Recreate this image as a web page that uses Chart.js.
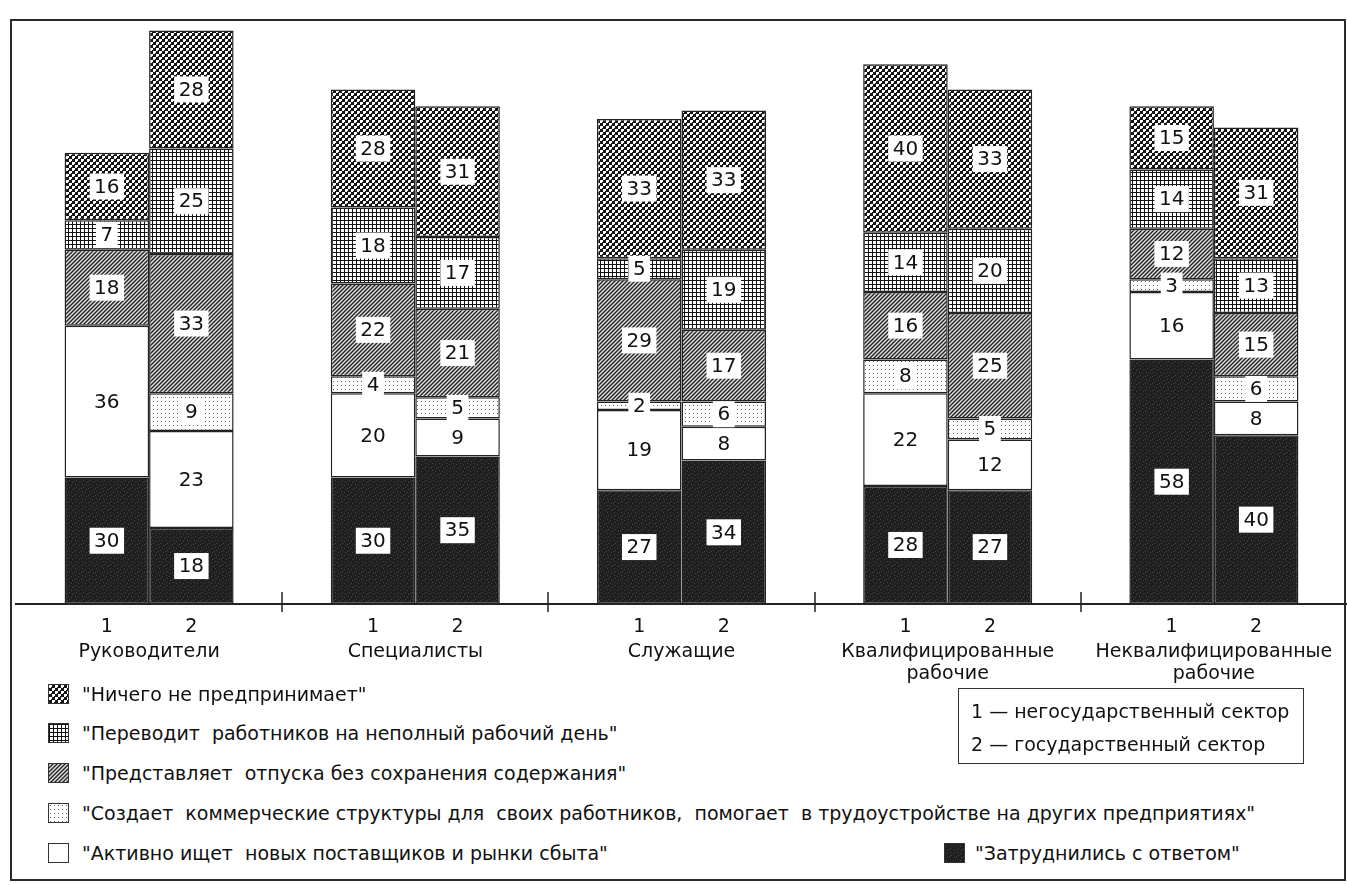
<!DOCTYPE html>
<html lang="ru">
<head>
<meta charset="UTF-8">
<title>Реакция предприятий</title>
<script src="https://cdn.jsdelivr.net/npm/chart.js"></script>
<style>
    html, body {
        margin: 0;
        padding: 0;
        background: #fff;
        width: 1347px;
        height: 885px;
        overflow: hidden;
        font-family: 'DejaVu Sans', sans-serif;
        color: #111;
    }
    #frame {
        position: absolute;
        left: 10px;
        top: 19px;
        width: 1332px;
        height: 858px;
        border: 2px solid #2b2b2b;
    }
    .chart-box {
        position: absolute;
        left: 0;
        top: 0;
        width: 1347px;
        height: 690px;
    }
    .legend-row {
        position: absolute;
        left: 48px;
        font-size: 19px;
        white-space: pre;
        display: flex;
        align-items: center;
        height: 26px;
    }
    .sw {
        display: inline-block;
        width: 21px;
        height: 20px;
        margin-right: 13px;
        box-sizing: border-box;
        border: 1px solid #333;
    }
    #sector-box {
        position: absolute;
        left: 958px;
        top: 688px;
        width: 346px;
        height: 76px;
        box-sizing: border-box;
        border: 1.5px solid #333;
        font-size: 19px;
        padding: 6px 0 0 12px;
        line-height: 33px;
    }
</style>
</head>
<body>
<div id="frame"></div>
<div class="chart-box"><canvas id="chart"></canvas></div>

<div id="legend"></div>
<div id="sector-box"></div>

<script>
// группы работников
const groups = ['Руководители', 'Специалисты', 'Служащие',
    ['Квалифицированные', 'рабочие'], ['Неквалифицированные', 'рабочие']];
const sectors = ['1', '2'];
const sectorNames = ['1 — негосударственный сектор', '2 — государственный сектор'];

const seriesNames = [
    '"Затруднились с ответом"',
    '"Активно ищет  новых поставщиков и рынки сбыта"',
    '"Создает  коммерческие структуры для  своих работников,  помогает  в трудоустройстве на других предприятиях"',
    '"Представляет  отпуска без сохранения содержания"',
    '"Переводит  работников на неполный рабочий день"',
    '"Ничего не предпринимает"'
];

// 1 — негосударственный, 2 — государственный
const hard1 = [30, 30, 27, 28, 58];
const hard2 = [18, 35, 34, 27, 40];
const search1 = [36, 20, 19, 22, 16];
const search2 = [23, 9, 8, 12, 8];
const commerce1 = [null, 4, 2, 8, 3];
const commerce2 = [9, 5, 6, 5, 6];
const leave1 = [18, 22, 29, 16, 12];
const leave2 = [33, 21, 17, 25, 15];
const parttime1 = [7, 18, 5, 14, 14];
const parttime2 = [25, 17, 19, 20, 13];
const nothing1 = [16, 28, 33, 40, 15];
const nothing2 = [28, 31, 33, 33, 31];

const yMax = 138;

// --- штриховки ---
function makeTile(kind) {
    const c = document.createElement('canvas');
    const g = c.getContext('2d');
    if (kind === 'dark') {
        c.width = 7; c.height = 7;
        g.fillStyle = '#1f1f1f';
        g.fillRect(0, 0, 7, 7);
        g.fillStyle = '#474747';
        [[1, 2], [4, 5], [5, 1], [2, 6], [6, 4]].forEach(p => g.fillRect(p[0], p[1], 1, 1));
    } else if (kind === 'white') {
        c.width = 4; c.height = 4;
        g.fillStyle = '#fff';
        g.fillRect(0, 0, 4, 4);
    } else if (kind === 'dots') {
        c.width = 4; c.height = 4;
        g.fillStyle = '#fff';
        g.fillRect(0, 0, 4, 4);
        g.fillStyle = '#666';
        g.fillRect(1, 1, 1, 1);
    } else if (kind === 'hatch') {
        c.width = 4; c.height = 4;
        g.fillStyle = '#e0e0e0';
        g.fillRect(0, 0, 4, 4);
        g.strokeStyle = '#222';
        g.lineWidth = 1.4;
        g.beginPath();
        g.moveTo(-1, 5); g.lineTo(5, -1);
        g.moveTo(-1, 1); g.lineTo(1, -1);
        g.moveTo(3, 5); g.lineTo(5, 3);
        g.stroke();
    } else if (kind === 'grid') {
        c.width = 4; c.height = 4;
        g.fillStyle = '#fff';
        g.fillRect(0, 0, 4, 4);
        g.fillStyle = '#111';
        g.fillRect(0, 0, 4, 1);
        g.fillRect(0, 0, 1, 4);
    } else if (kind === 'checker') {
        c.width = 6; c.height = 6;
        g.fillStyle = '#151515';
        g.fillRect(0, 0, 6, 6);
        g.fillStyle = '#fff';
        g.fillRect(0, 0, 3, 3);
        g.fillRect(3, 3, 3, 3);
        g.fillStyle = '#151515';
        g.fillRect(2, 2, 1, 1);
        g.fillRect(5, 5, 1, 1);
    }
    return c;
}

const kinds = ['dark', 'white', 'dots', 'hatch', 'grid', 'checker'];
const seriesValues = [
    [hard1, hard2], [search1, search2], [commerce1, commerce2],
    [leave1, leave2], [parttime1, parttime2], [nothing1, nothing2]
];

const ctx = document.getElementById('chart').getContext('2d');
const tiles = {};
kinds.forEach(k => { tiles[k] = makeTile(k); });

const datasets = [];
seriesValues.forEach((pair, si) => {
    pair.forEach((vals, sj) => {
        datasets.push({
            label: seriesNames[si],
            kind: kinds[si],
            data: vals,
            stack: 's' + sectors[sj],
            backgroundColor: ctx.createPattern(tiles[kinds[si]], 'repeat'),
            borderColor: '#222',
            borderWidth: 1.5,
            borderSkipped: false,
            barPercentage: 1,
            categoryPercentage: 0.635
        });
    });
});

const labelsPlugin = {
    id: 'segLabels',
    afterDatasetsDraw(chart) {
        const c = chart.ctx;
        c.save();
        c.font = '20px "DejaVu Sans"';
        c.textAlign = 'center';
        c.textBaseline = 'middle';
        chart.data.datasets.forEach((ds, di) => {
            const meta = chart.getDatasetMeta(di);
            meta.data.forEach((bar, i) => {
                const v = ds.data[i];
                if (!v) return;
                const cy = (bar.y + bar.base) / 2;
                const txt = String(v);
                if (ds.kind !== 'white') {
                    const w = c.measureText(txt).width + 9;
                    c.fillStyle = '#fff';
                    c.fillRect(bar.x - w / 2, cy - 13, w, 26);
                }
                c.fillStyle = '#111';
                c.fillText(txt, bar.x, cy + 1);
            });
        });
        c.restore();
    },
    afterDraw(chart) {
        const c = chart.ctx;
        const area = chart.chartArea;
        const xs = chart.scales.x;
        c.save();
        // номера секторов под столбцами
        c.font = '19px "DejaVu Sans"';
        c.fillStyle = '#111';
        c.textAlign = 'center';
        c.textBaseline = 'middle';
        [0, 1].forEach(di => {
            chart.getDatasetMeta(di).data.forEach(bar => {
                c.fillText(sectors[di], bar.x, area.bottom + 23);
            });
        });
        // разделители групп
        c.strokeStyle = '#222';
        c.lineWidth = 1.5;
        for (let i = 0; i < groups.length - 1; i++) {
            const x = Math.round(xs.getPixelForValue(i + 0.5));
            c.beginPath();
            c.moveTo(x, area.bottom - 12);
            c.lineTo(x, area.bottom + 8);
            c.stroke();
        }
        c.restore();
    }
};

new Chart(ctx, {
    type: 'bar',
    data: { labels: groups, datasets: datasets },
    options: {
        responsive: true,
        maintainAspectRatio: false,
        animation: false,
        layout: { padding: { left: 16, right: -4, top: 22, bottom: 0 } },
        plugins: {
            legend: { display: false },
            tooltip: { enabled: false }
        },
        scales: {
            x: {
                stacked: true,
                grid: { display: false },
                border: { display: true, color: '#222', width: 2 },
                ticks: {
                    color: '#111',
                    font: { family: 'DejaVu Sans', size: 19, lineHeight: 1.15 },
                    padding: 29,
                    maxRotation: 0,
                    autoSkip: false
                },
                afterFit(scale) {
                    scale.height = 86;
                    scale.paddingLeft = 0;
                    scale.paddingRight = 0;
                }
            },
            y: {
                stacked: true,
                display: false,
                min: 0,
                max: yMax
            }
        }
    },
    plugins: [labelsPlugin]
});

// --- легенда ---
const legend = document.getElementById('legend');
const legendOrder = [5, 4, 3, 2, 1];
const rowTops = [681, 720, 760, 800, 840];
legendOrder.forEach((si, r) => {
    const row = document.createElement('div');
    row.className = 'legend-row';
    row.style.top = rowTops[r] + 'px';
    const sw = document.createElement('span');
    sw.className = 'sw';
    sw.style.backgroundImage = 'url(' + tiles[kinds[si]].toDataURL() + ')';
    row.appendChild(sw);
    row.appendChild(document.createTextNode(seriesNames[si]));
    legend.appendChild(row);
});
const hardRow = document.createElement('div');
hardRow.className = 'legend-row';
hardRow.style.left = '944px';
hardRow.style.top = rowTops[4] + 'px';
const hardSw = document.createElement('span');
hardSw.className = 'sw';
hardSw.style.backgroundImage = 'url(' + tiles.dark.toDataURL() + ')';
hardSw.style.marginRight = '10px';
hardRow.appendChild(hardSw);
hardRow.appendChild(document.createTextNode(seriesNames[0]));
legend.appendChild(hardRow);

document.getElementById('sector-box').innerHTML = sectorNames.join('<br>');
</script>
</body>
</html>
